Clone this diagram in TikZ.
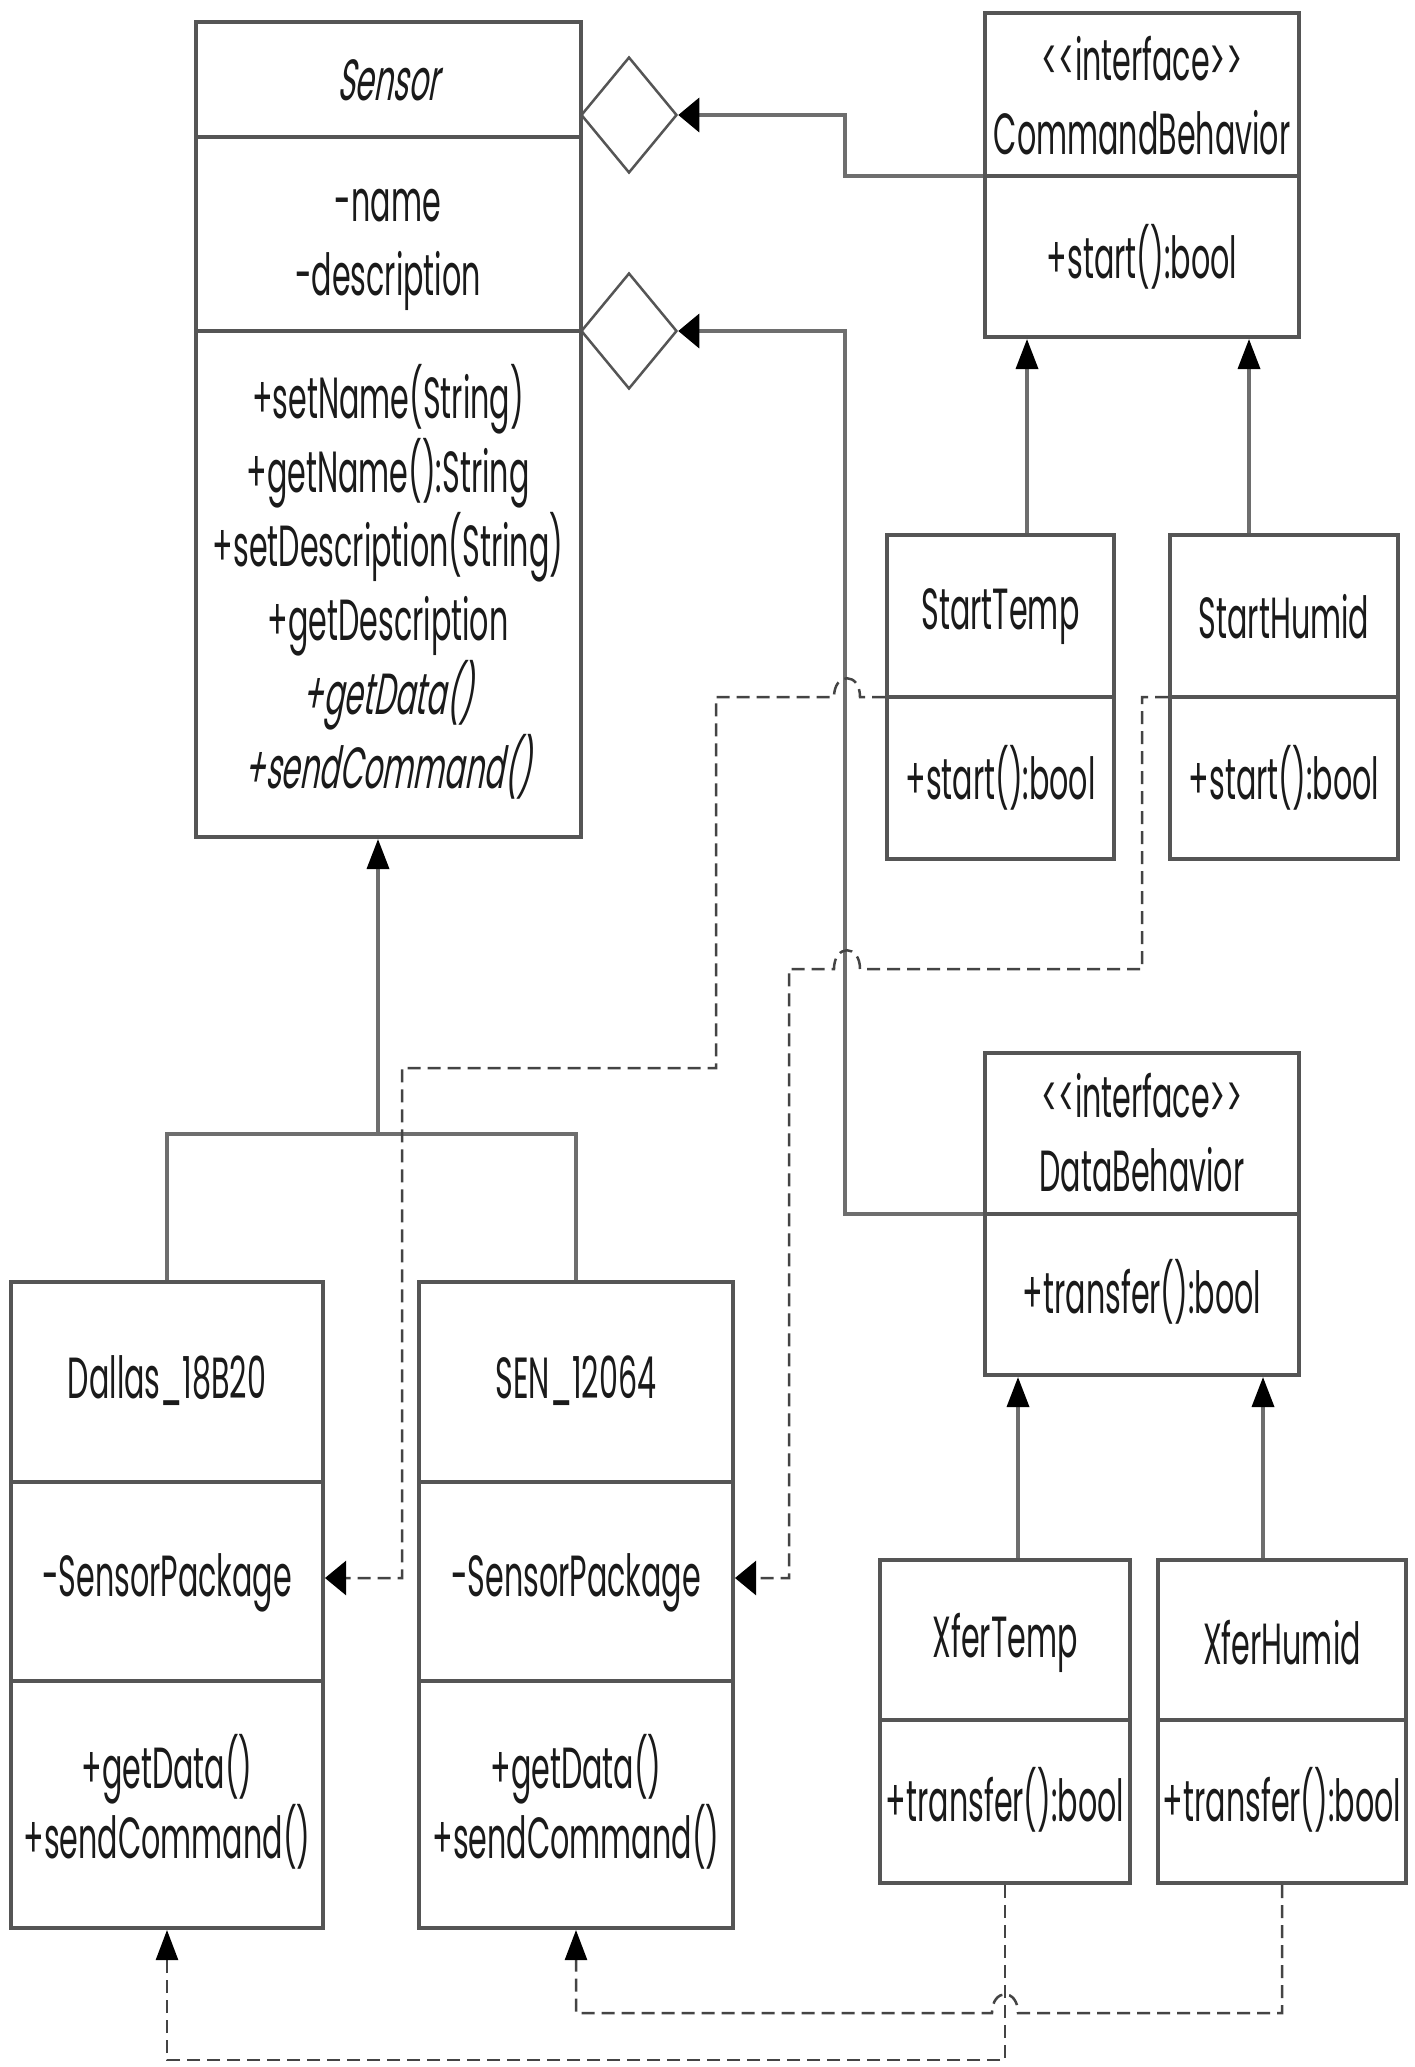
\documentclass[tikz,border=0pt]{standalone}
\usepackage{fontspec}
\setmainfont{Poppins}[FakeStretch=0.52]
\newfontfamily\itf{Poppins}[FakeStretch=0.52,FakeSlant=0.18]
\usetikzlibrary{arrows.meta,shapes.geometric}
\definecolor{boxc}{HTML}{555555}
\definecolor{linec}{HTML}{6E6E6E}
\definecolor{dashc}{HTML}{444444}
\definecolor{txtc}{HTML}{1A1A1A}
\begin{document}
\begin{tikzpicture}[x=1pt,y=-1pt,
 box/.style={draw=boxc,line width=4pt,fill=white,inner sep=0pt},
 sep/.style={draw=boxc,line width=4pt},
 txt/.style={text=txtc,inner sep=0pt,align=center,font=\fontsize{58}{74}\selectfont},
 conn/.style={draw=linec,line width=3.5pt},
 dep/.style={draw=dashc,line width=2.5pt,dash pattern=on 13pt off 7pt},
 hhead/.style={-{Triangle[length=21pt,width=34pt,color=black]}},
 vhead/.style={-{Triangle[length=30pt,width=22pt,color=black]}},
 agg/.style={diamond,draw=boxc,line width=2.5pt,fill=white,minimum width=96pt,minimum height=116pt,inner sep=0pt}]
\useasboundingbox (0,0) rectangle (1415,2067);
\fill[white] (0,0) rectangle (1415,2067);

% helper coordinates
\coordinate (y137) at (0,137);
\coordinate (y331) at (0,331);
\coordinate (cbd) at (0,176);
\coordinate (stdv) at (0,697);
\coordinate (dbd) at (0,1214);
\coordinate (xd) at (0,1720);
\coordinate (d1) at (0,1482);
\coordinate (d2) at (0,1681);
\coordinate (pk) at (0,1578);
\coordinate (a1) at (1027,0);
\coordinate (a2) at (1249,0);
\coordinate (a3) at (1018,0);
\coordinate (a4) at (1263,0);
\coordinate (j1) at (845,115);
\coordinate (j2) at (845,331);
\coordinate (bar) at (378,1134);

% class boxes
\node[box,minimum width=385pt,minimum height=815pt] (sensor) at (388.5,429.5) {};
\node[box,minimum width=314pt,minimum height=324pt] (cb) at (1142,175) {};
\node[box,minimum width=227pt,minimum height=324pt] (st) at (1000.5,697) {};
\node[box,minimum width=228pt,minimum height=324pt] (sh) at (1284,697) {};
\node[box,minimum width=314pt,minimum height=322pt] (db) at (1142,1214) {};
\node[box,minimum width=250pt,minimum height=323pt] (xt) at (1005,1721.5) {};
\node[box,minimum width=248pt,minimum height=323pt] (xh) at (1282,1721.5) {};
\node[box,minimum width=312pt,minimum height=646pt] (dal) at (167,1605) {};
\node[box,minimum width=314pt,minimum height=646pt] (sen) at (576,1605) {};

% dividers
\draw[sep] (sensor.west |- y137) -- (sensor.east |- y137);
\draw[sep] (sensor.west |- y331) -- (sensor.east |- y331);
\draw[sep] (cb.west |- cbd) -- (cb.east |- cbd);
\draw[sep] (st.west |- stdv) -- (st.east |- stdv);
\draw[sep] (sh.west |- stdv) -- (sh.east |- stdv);
\draw[sep] (db.west |- dbd) -- (db.east |- dbd);
\draw[sep] (xt.west |- xd) -- (xt.east |- xd);
\draw[sep] (xh.west |- xd) -- (xh.east |- xd);
\draw[sep] (dal.west |- d1) -- (dal.east |- d1);
\draw[sep] (dal.west |- d2) -- (dal.east |- d2);
\draw[sep] (sen.west |- d1) -- (sen.east |- d1);
\draw[sep] (sen.west |- d2) -- (sen.east |- d2);

% texts
\node[txt] (tsensor) at (388,80) {\itf Sensor};
\node[txt] (tsattr) at (388,250) {-name\\-description};
\node[txt] (tsmeth) at (388,582) {+setName(String)\\+getName():String\\+setDescription(String)\\+getDescription\\{\itf +getData()}\\{\itf +sendCommand()}};
\node[txt] (tcb) at (1142,96) {<\kern0pt<interface>\kern0pt>\\CommandBehavior};
\node[txt] (tcbm) at (1142,257) {+start():bool};
\node[txt] (tst) at (1000.5,617) {StartTemp};
\node[txt] (tstm) at (1000.5,778) {+start():bool};
\node[txt] (tsh) at (1284,617) {StartHumid};
\node[txt] (tshm) at (1284,778) {+start():bool};
\node[txt] (tdb) at (1142,1133) {<\kern0pt<interface>\kern0pt>\\DataBehavior};
\node[txt] (tdbm) at (1142,1292) {+transfer():bool};
\node[txt] (txt1) at (1005,1643) {XferTemp};
\node[txt] (txtm) at (1005,1800) {+transfer():bool};
\node[txt] (txh) at (1282,1643) {XferHumid};
\node[txt] (txhm) at (1282,1800) {+transfer():bool};
\node[txt] (tdal) at (167,1381) {Dallas\_18B20};
\node[txt] (tdalp) at (167,1583) {-SensorPackage};
\node[txt,font=\fontsize{58}{70}\selectfont] (tdalm) at (167,1802) {+getData()\\+sendCommand()};
\node[txt] (tsen) at (576,1381) {SEN\_12064};
\node[txt] (tsenp) at (576,1583) {-SensorPackage};
\node[txt,font=\fontsize{58}{70}\selectfont] (tsenm) at (576,1802) {+getData()\\+sendCommand()};

% aggregation diamonds
\node[agg] (agg1) at (629,115) {};
\node[agg] (agg2) at (629,331) {};
\draw[conn,hhead] (cb.west |- cbd) -| (j1) -- (agg1.east);
\draw[conn,hhead] (db.west |- dbd) -| (j2) -- (agg2.east);

% generalizations
\draw[conn,vhead] (st.north -| a1) -- (cb.south -| a1);
\draw[conn,vhead] (sh.north -| a2) -- (cb.south -| a2);
\draw[conn,vhead] (xt.north -| a3) -- (db.south -| a3);
\draw[conn,vhead] (xh.north -| a4) -- (db.south -| a4);
\draw[conn] (dal.north) |- (bar) -| (sen.north);
\draw[conn,vhead] (bar) -- (sensor.south -| bar);

% dependencies (dashed)
\draw[dep,hhead] (st.west |- stdv) -- (860,697) .. controls (860,672) and (834,672) .. (834,697) -- (716,697) -- (716,1068) -- (402,1068) -- (402,1578) -- (dal.east |- pk);
\draw[dep,hhead] (sh.west |- stdv) -- (1142,697) -- (1142,969) -- (860,969) .. controls (860,944) and (834,944) .. (834,969) -- (789,969) -- (789,1578) -- (sen.east |- pk);
\draw[dep,vhead] (xt.south) -- (1005,2060) -- (167,2060) -- (dal.south);
\draw[dep,vhead] (xh.south) -- (1282,2013) -- (1018,2013) .. controls (1018,1988) and (992,1988) .. (992,2013) -- (576,2013) -- (sen.south);
\end{tikzpicture}
\end{document}
